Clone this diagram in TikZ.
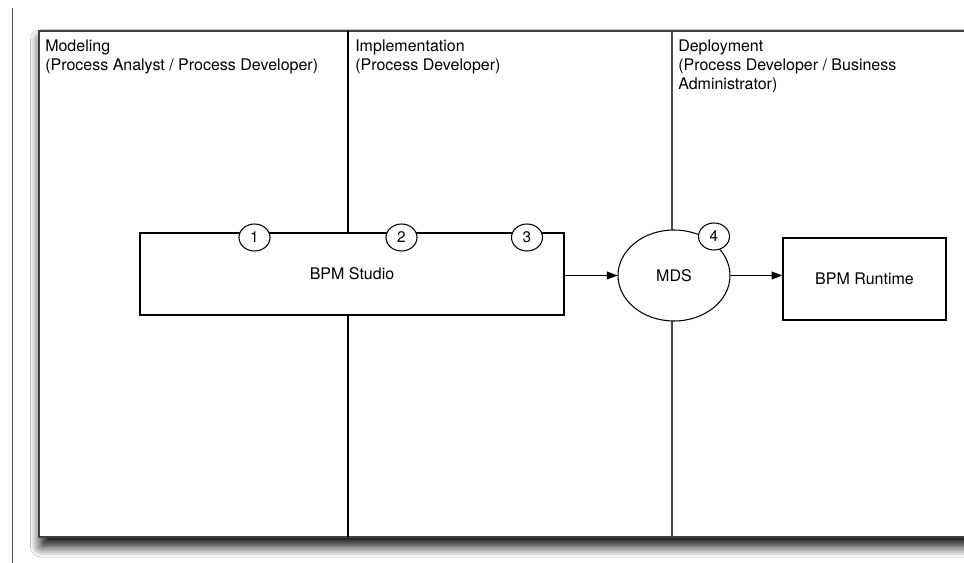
\documentclass[tikz,border=0pt]{standalone}
\usepackage{fontspec}
\setmainfont{TeX Gyre Heros}
\usetikzlibrary{shapes.geometric,arrows.meta,shadows.blur}
\begin{document}
\begin{tikzpicture}[x=0.75pt,y=-0.75pt,
  lanetext/.style={anchor=north west,align=left,inner sep=0pt,font=\fontsize{12pt}{14.25pt}\selectfont},
  frame/.style={draw=black!75,line width=1.1pt,fill=white},
  boxnode/.style={draw,line width=1.2pt,fill=white,inner sep=0pt,font=\fontsize{12pt}{14pt}\selectfont},
  numnode/.style={ellipse,draw,line width=0.8pt,fill=white,inner sep=0pt,minimum width=23.25pt,minimum height=20.25pt,font=\fontsize{11.5pt}{13pt}\selectfont},
  flow/.style={draw,line width=0.8pt,-{Triangle[length=8pt,width=6pt,fill=black]}}
]
\useasboundingbox (0,0) rectangle (964,563);
\clip (0,0) rectangle (964,563);
\fill[white] (0,0) rectangle (964,563);
% left margin line
\draw[black!70,line width=0.8pt] (12.5,8) -- (12.5,563);
% frame
\path[frame,blur shadow={shadow xshift=1.5pt,shadow yshift=-7pt,shadow blur radius=8pt,shadow opacity=100,shadow blur steps=12}] (39,31) rectangle (1000,537);
\coordinate (l1t) at (348,31); \coordinate (l1b) at (348,537);
\coordinate (l2t) at (672,31); \coordinate (l2b) at (672,537);
\draw[black,line width=1.4pt] (l1t) -- (l1b);
\draw[black!70,line width=0.8pt] (l2t) -- (l2b);
% lane headings
\node[lanetext] (h1) at (45,40) {Modeling\\(Process Analyst / Process Developer)};
\node[lanetext] (h2) at (355,40) {Implementation\\(Process Developer)};
\node[lanetext] (h3) at (678,40) {Deployment\\(Process Developer / Business\\Administrator)};
% nodes
\node[boxnode,minimum width=318pt,minimum height=61.5pt] (studio) at (352,274) {BPM Studio};
\node[boxnode,minimum width=122.25pt,minimum height=61.5pt] (rt) at (864.5,279) {BPM Runtime};
\node[ellipse,draw,line width=0.8pt,fill=white,minimum width=84pt,minimum height=68.25pt,inner sep=0pt,font=\fontsize{12pt}{14pt}\selectfont] (mds) at (674,275.5) {MDS};
\node[numnode] (n1) at (254.5,237.5) {1};
\node[numnode] (n2) at (401.5,237.5) {2};
\node[numnode] (n3) at (527,237.5) {3};
\node[numnode] (n4) at (714,236.5) {4};
% connectors
\draw[flow] (studio.east |- mds.west) -- (mds.west);
\draw[flow] (mds.east) -- (mds.east -| rt.west);
\end{tikzpicture}
\end{document}
